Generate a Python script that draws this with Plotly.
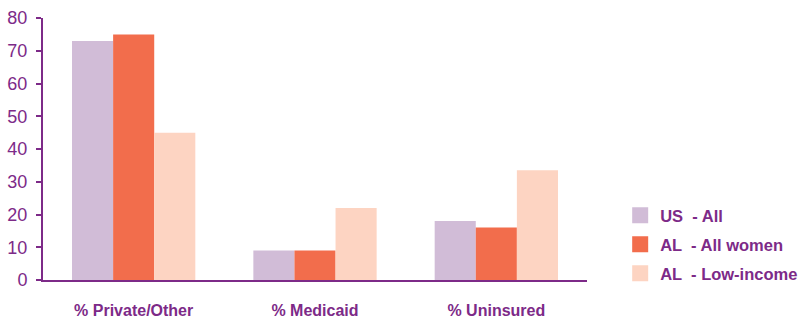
import plotly.graph_objects as go

categories = ["% Private/Other", "% Medicaid", "% Uninsured"]
series_names = ["US  - All", "AL  - All women", "AL  - Low-income"]
us_all = [73, 9, 18]
al_all_women = [75, 9, 16]
al_low_income = [45, 22, 33.5]
y_ticks = [0, 10, 20, 30, 40, 50, 60, 70, 80]

colors = ["#d1bcd7", "#f26d4c", "#fdd4c2"]
purple = "#7d2a88"

fig = go.Figure()
for i, (name, vals, c) in enumerate(zip(series_names, [us_all, al_all_women, al_low_income], colors)):
    fig.add_trace(go.Bar(x=categories, y=vals, name=name, showlegend=False,
                         marker=dict(color=c, line=dict(width=0))))
    # legend-only proxy with a larger square swatch
    fig.add_trace(go.Scatter(x=[None], y=[None], mode="markers", name=name,
                             legendgroup=f"g{i}",
                             marker=dict(symbol="square", size=16, color=c)))

fig.update_layout(
    width=806, height=318,
    margin=dict(l=43, r=219, t=18, b=38, autoexpand=False),
    barmode="group", bargap=0.32, bargroupgap=0,
    plot_bgcolor="white", paper_bgcolor="white",
    font=dict(family="Liberation Sans", color=purple),
    legend=dict(
        x=1.061, y=-0.042, xanchor="left", yanchor="bottom",
        font=dict(family="Liberation Sans", size=16.5, color=purple, weight="bold"),
        itemwidth=30, tracegroupgap=4.5, bgcolor="rgba(0,0,0,0)",
    ),
    xaxis=dict(
        showline=True, linecolor=purple, linewidth=2, ticks="", automargin=False,
        tickfont=dict(family="Liberation Sans", size=16, color=purple, weight="bold"),
        ticklabelstandoff=15,
    ),
    yaxis=dict(
        range=[0, 80], tickvals=y_ticks, showline=True, linecolor=purple, linewidth=2,
        ticks="outside", ticklen=5, tickcolor=purple, tickwidth=2, showgrid=False, zeroline=False,
        tickfont=dict(size=18, color=purple), ticklabelstandoff=5, automargin=False,
    ),
)

# remove the default page margin so the 806x318 figure fills the window exactly
fig.write_html("out.html", config={"displayModeBar": False},
               post_script="document.body.style.margin='0';")
